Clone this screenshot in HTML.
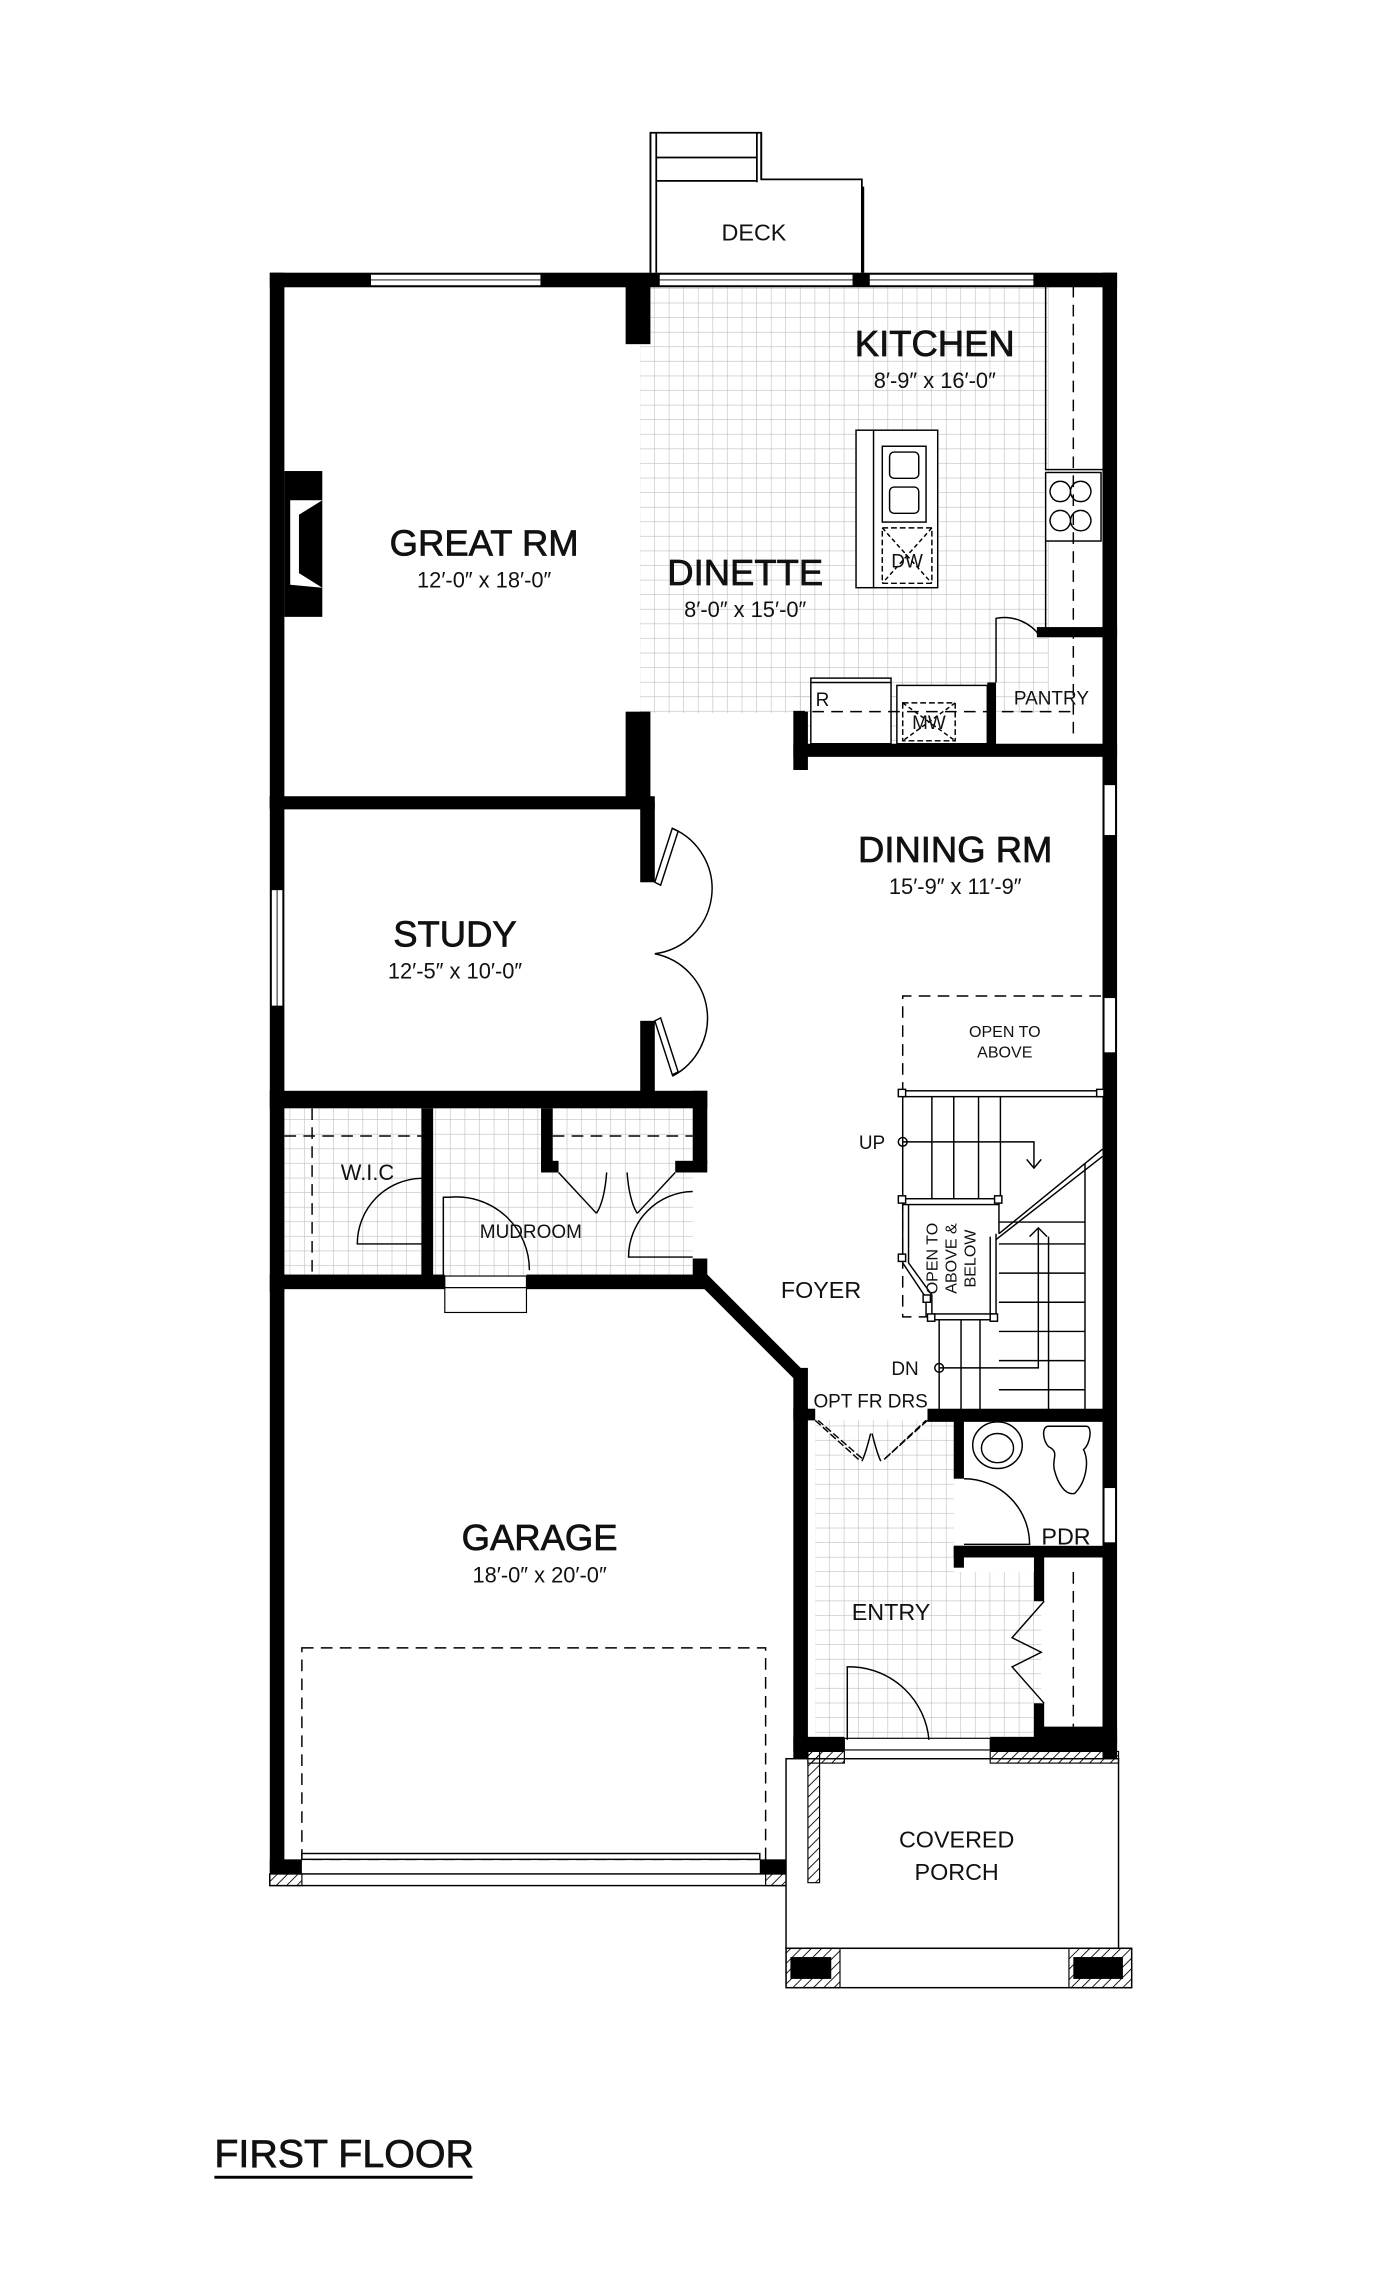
<!DOCTYPE html>
<html><head><meta charset="utf-8"><style>
html,body{margin:0;padding:0;background:#fff}
svg{display:block}
text{font-family:"Liberation Sans",sans-serif;fill:#111}
.big{stroke:#111;stroke-width:0.5}
</style></head><body>
<svg width="1400" height="2277" viewBox="0 0 960 1561.4" xmlns="http://www.w3.org/2000/svg">
<defs>
<pattern id="g" width="10" height="10" patternUnits="userSpaceOnUse">
<path d="M10 0V10H0" fill="none" stroke="#bdbdbd" stroke-width="0.8"/>
</pattern>
<pattern id="h" width="5" height="5" patternUnits="userSpaceOnUse" patternTransform="rotate(45)">
<line x1="0" y1="0" x2="0" y2="5" stroke="#000" stroke-width="1.2"/>
</pattern>
</defs>
<g transform="translate(-1,-2)">
<rect x="440" y="198" width="280" height="293" fill="url(#g)"/>
<rect x="545" y="470" width="135" height="42" fill="url(#g)"/>
<rect x="196" y="762" width="280" height="116" fill="url(#g)"/>
<rect x="560" y="976" width="95" height="220" fill="url(#g)"/>
<rect x="655" y="1080" width="60" height="115" fill="url(#g)"/>

<g fill="none" stroke="#000" stroke-width="1.2">
<path d="M447 189V93h4v96M520 93h3v32h69v64M451 93H520v34M451 110h69M451 126h69"/>
<path d="M447 93v96M523 125V93"/>
<path d="M593 189V130"/>
</g>
<text x="518" y="167" font-size="16" text-anchor="middle">DECK</text>

<g fill="#000">
<rect x="186" y="189" width="581" height="10"/>
<rect x="186" y="189" width="10" height="367"/>
<rect x="757" y="189" width="10" height="1020"/>
<rect x="430" y="198" width="17" height="40"/>
<rect x="430" y="490" width="17" height="62"/>
<rect x="186" y="548" width="264" height="9"/>
<rect x="186" y="548" width="10" height="340"/>
<rect x="440" y="552" width="10" height="55"/>
<rect x="440" y="702" width="10" height="50"/>
<rect x="186" y="750" width="300" height="12"/>
<rect x="476" y="750" width="10" height="50"/>
<rect x="290" y="762" width="8" height="115"/>
<rect x="372" y="762" width="8" height="42"/>
<rect x="372" y="798" width="12" height="8"/>
<rect x="464" y="798" width="22" height="8"/>
<rect x="476" y="865" width="10" height="15"/>
<rect x="186" y="876" width="120" height="10"/>
<rect x="362" y="876" width="124" height="10"/>
<rect x="186" y="886" width="10" height="400"/>
<polygon points="480,876 486,876 555,945 550,952 480,882"/>
<rect x="545" y="940" width="10" height="340"/>
<rect x="545" y="968" width="15" height="8"/>
<rect x="637" y="968" width="125" height="9"/>
<rect x="655" y="976" width="7" height="40"/>
<rect x="655" y="1062" width="110" height="8"/>
<rect x="655" y="1062" width="7" height="15"/>
<rect x="710" y="1070" width="7" height="30"/>
<rect x="710" y="1170" width="7" height="25"/>
<rect x="710" y="1186" width="57" height="10"/>
<rect x="545" y="1193" width="35" height="10"/>
<rect x="680" y="1193" width="87" height="10"/>
<rect x="545" y="1270" width="10" height="17"/>
<rect x="186" y="1277" width="22" height="10"/>
<rect x="522" y="1277" width="25" height="10"/>
<rect x="545" y="512" width="222" height="9"/>
<rect x="545" y="490" width="10" height="40"/>
<rect x="678" y="470" width="6" height="45"/>
<rect x="712" y="432" width="55" height="7"/>
<rect x="196" y="325" width="26" height="100"/>
</g>
<polygon points="222,345 200,345 200,403 222,405 206,395 206,355" fill="#fff"/>

<g fill="#fff" stroke="#000" stroke-width="0.8">
<rect x="255" y="190" width="117" height="8"/>
<rect x="453" y="190" width="133" height="8"/>
<rect x="597" y="190" width="113" height="8"/>
<rect x="187" y="612" width="8" height="80"/>
<rect x="758" y="540" width="8" height="35"/>
<rect x="758" y="686" width="8" height="38"/>
<rect x="758" y="1022" width="8" height="38"/>
<rect x="306" y="877" width="56" height="8"/>
<rect x="306" y="885" width="56" height="17"/>
<rect x="580" y="1194" width="100" height="8"/>
</g>
<g stroke="#000" stroke-width="0.6"><line x1="255" y1="194" x2="372" y2="194"/><line x1="597" y1="194" x2="710" y2="194"/><line x1="453" y1="194" x2="586" y2="194"/><line x1="191" y1="612" x2="191" y2="692"/></g>

<g fill="#fff" stroke="#000" stroke-width="1">
<rect x="588" y="297" width="56" height="108"/>
<rect x="718" y="326" width="38" height="47"/>
<rect x="557" y="467" width="55" height="45"/>
<rect x="616" y="472" width="62" height="40"/>
<rect x="718" y="198" width="40" height="126" fill="none"/>
</g>
<g fill="none" stroke="#000" stroke-width="1">
<line x1="600" y1="297" x2="600" y2="405"/>
<rect x="606" y="308" width="30" height="52"/>
<rect x="611" y="312" width="20" height="18" rx="3"/>
<rect x="611" y="336" width="20" height="18" rx="3"/>
<path d="M728 332a7 7 0 1 0 0.1 0M742 332a7 7 0 1 0 0.1 0M728 352a7 7 0 1 0 0.1 0M742 352a7 7 0 1 0 0.1 0"/>
<line x1="718" y1="373" x2="718" y2="432"/>
<path d="M737 198V510" stroke-dasharray="8 5"/>
<path d="M545 490H740" stroke-dasharray="8 5"/>
<rect x="606" y="364" width="34" height="38" stroke-dasharray="4 2"/>
<path d="M606 364l34 38M640 364l-34 38" stroke-dasharray="3 2"/>
<rect x="620" y="484" width="36" height="26" stroke-dasharray="4 2"/>
<path d="M620 484l36 26M656 484l-36 26" stroke-dasharray="3 2"/>
<line x1="557" y1="470" x2="612" y2="470"/>
<path d="M684 470V426a30 30 0 0 1 30 12"/>
</g>
<text x="623" y="391" font-size="13" text-anchor="middle">DW</text>
<text x="638" y="502" font-size="13" text-anchor="middle">MW</text>
<text x="565" y="486" font-size="13" text-anchor="middle">R</text>
<text x="722" y="485" font-size="13" text-anchor="middle">PANTRY</text>

<g fill="none" stroke="#000" stroke-width="1">
<path d="M450 607l12 -37 4 2 -12 37z"/>
<path d="M462 570a45 45 0 0 1 -12 86"/>
<path d="M450 702l12 37 4 -2 -12 -37z"/>
<path d="M462 740a45 45 0 0 0 -12 -84"/>
</g>

<path d="M620 752V685H757" fill="none" stroke="#000" stroke-width="1" stroke-dasharray="8 5"/>
<path d="M620 825V905h20" fill="none" stroke="#000" stroke-width="1" stroke-dasharray="8 5"/>
<text x="690" y="713" font-size="11" text-anchor="middle">OPEN TO</text>
<text x="690" y="727" font-size="11" text-anchor="middle">ABOVE</text>

<g fill="none" stroke="#000" stroke-width="1">
<rect x="620" y="750" width="137" height="4" fill="#fff"/>
<line x1="640" y1="754" x2="640" y2="825"/><line x1="655" y1="754" x2="655" y2="825"/>
<line x1="672" y1="754" x2="672" y2="825"/><line x1="687" y1="754" x2="687" y2="825"/>
<line x1="620" y1="754" x2="620" y2="825"/>
<rect x="620" y="824" width="66" height="4" fill="#fff"/>
<path d="M624 828v40l16 22v15M620 828v40l16 24v13"/>
<path d="M686 828v20M684 848v55M680 850v53"/>
<rect x="640" y="903" width="42" height="4" fill="#fff"/>
<path d="M686 848L757 790M684 852L757 795"/>
<path d="M745 800V970"/>
<path d="M686 840H745M686 855H745M686 875H745M686 895H745M686 915H745M686 935H745M686 955H745"/>
<path d="M645 907V970M660 907V970M673 907V970M720 850V970"/>
<path d="M620 785H710V802M705 797l5 6 5-6"/>
<path d="M645 940H713V845M707 850l6-6 6 6"/>
<circle cx="620" cy="785" r="3"/><circle cx="645" cy="940" r="3"/>
</g>
<g fill="#fff" stroke="#000" stroke-width="1">
<rect x="617" y="749" width="5" height="5"/><rect x="617" y="822" width="5" height="5"/>
<rect x="683" y="822" width="5" height="5"/><rect x="617" y="862" width="5" height="5"/>
<rect x="634" y="890" width="5" height="5"/><rect x="637" y="903" width="5" height="5"/>
<rect x="680" y="903" width="5" height="5"/><rect x="753" y="749" width="5" height="5"/>
</g>
<text x="608" y="790" font-size="13" text-anchor="end">UP</text>
<text x="631" y="945" font-size="13" text-anchor="end">DN</text>
<text transform="translate(644,865) rotate(-90)" font-size="11" text-anchor="middle">OPEN TO</text>
<text transform="translate(657,865) rotate(-90)" font-size="11" text-anchor="middle">ABOVE &amp;</text>
<text transform="translate(670,865) rotate(-90)" font-size="11" text-anchor="middle">BELOW</text>

<g fill="none" stroke="#000" stroke-width="1">
<path d="M215 762V876M196 781H290" stroke-dasharray="8 5"/>
<path d="M380 781H476" stroke-dasharray="8 5"/>
<path d="M290 855H246a45 45 0 0 1 44 -45"/>
<path d="M305 876V823h4a50 50 0 0 1 55 50"/>
<path d="M476 864H432a45 45 0 0 1 44 -45"/>
<path d="M384 806l26 28M410 834c4-6 6-15 7-28M464 806l-26 28M438 834c-4-6 -6-15 -7-28"/>
</g>
<text x="253" y="811" font-size="15" text-anchor="middle">W.I.C</text>
<text x="365" y="851" font-size="13" text-anchor="middle">MUDROOM</text>

<g fill="none" stroke="#000" stroke-width="1">
<path d="M560 976l30 27M592 1002l-30-26" stroke-dasharray="5 2"/>
<path d="M637 976l-30 27M608 1002l28-26" stroke-dasharray="5 2"/>
<path d="M598 985c-2 8-4 15-6 19M599 985c2 8 4 15 6 19"/>
<ellipse cx="685" cy="993" rx="17" ry="16"/><ellipse cx="685" cy="995" rx="11" ry="10"/>
<path d="M720 980h26c4 0 3 12-2 16c4 8 2 22-6 30c-7 2-12 -8-14 -16c-2 -8 4 -12 -4 -16c-4-4-5-14 0-14z"/>
<path d="M662 1016a45 45 0 0 1 45 45H662"/>
<path d="M582 1195V1145h4a55 55 0 0 1 52 50"/>
<path d="M717 1100l-22 25 20 10-20 10 22 25"/>
<path d="M737 1080V1186" stroke-dasharray="8 5"/>
</g>
<text x="598" y="967" font-size="13" text-anchor="middle">OPT FR DRS</text>
<text x="732" y="1061" font-size="16" text-anchor="middle">PDR</text>
<text x="612" y="1113" font-size="16" text-anchor="middle">ENTRY</text>

<rect x="208" y="1132" width="318" height="145" fill="none" stroke="#000" stroke-width="1" stroke-dasharray="8 5"/>
<g fill="#fff" stroke="#000" stroke-width="1">
<rect x="208" y="1273" width="314" height="4"/>
<rect x="186" y="1287" width="362" height="8"/>
</g>
<rect x="186" y="1287" width="22" height="8" fill="url(#h)" stroke="#000" stroke-width="0.8"/>
<rect x="526" y="1287" width="22" height="8" fill="url(#h)" stroke="#000" stroke-width="0.8"/>

<g fill="none" stroke="#000" stroke-width="1">
<rect x="540" y="1208" width="228" height="130" fill="#fff"/>
<rect x="540" y="1338" width="237" height="27"/>
</g>
<rect x="555" y="1203" width="25" height="8" fill="url(#h)" stroke="#000" stroke-width="0.8"/>
<rect x="680" y="1203" width="88" height="8" fill="url(#h)" stroke="#000" stroke-width="0.8"/>
<rect x="555" y="1203" width="8" height="90" fill="url(#h)" stroke="#000" stroke-width="0.8"/>
<rect x="540" y="1338" width="37" height="27" fill="url(#h)" stroke="#000" stroke-width="0.8"/>
<rect x="734" y="1338" width="43" height="27" fill="url(#h)" stroke="#000" stroke-width="0.8"/>
<rect x="543" y="1344" width="28" height="15" fill="#000"/>
<rect x="737" y="1344" width="34" height="15" fill="#000"/>
<text x="657" y="1269" font-size="16" text-anchor="middle">COVERED</text>
<text x="657" y="1291" font-size="16" text-anchor="middle">PORCH</text>

<text class="big" x="642" y="246" font-size="25" text-anchor="middle">KITCHEN</text>
<text x="642" y="268" font-size="15" text-anchor="middle">8′-9″ x 16′-0″</text>
<text class="big" x="333" y="383" font-size="25" text-anchor="middle">GREAT RM</text>
<text x="333" y="405" font-size="15" text-anchor="middle">12′-0″ x 18′-0″</text>
<text class="big" x="512" y="403" font-size="25" text-anchor="middle">DINETTE</text>
<text x="512" y="425" font-size="15" text-anchor="middle">8′-0″ x 15′-0″</text>
<text class="big" x="656" y="593" font-size="25" text-anchor="middle">DINING RM</text>
<text x="656" y="615" font-size="15" text-anchor="middle">15′-9″ x 11′-9″</text>
<text class="big" x="313" y="651" font-size="25" text-anchor="middle">STUDY</text>
<text x="313" y="673" font-size="15" text-anchor="middle">12′-5″ x 10′-0″</text>
<text x="564" y="892" font-size="16" text-anchor="middle">FOYER</text>
<text class="big" x="371" y="1065" font-size="25" text-anchor="middle">GARAGE</text>
<text x="371" y="1087" font-size="15" text-anchor="middle">18′-0″ x 20′-0″</text>

<text class="big" x="148" y="1488" font-size="27">FIRST FLOOR</text>
<rect x="148" y="1494" width="177" height="2" fill="#000"/>
</g>
</svg>
</body></html>
